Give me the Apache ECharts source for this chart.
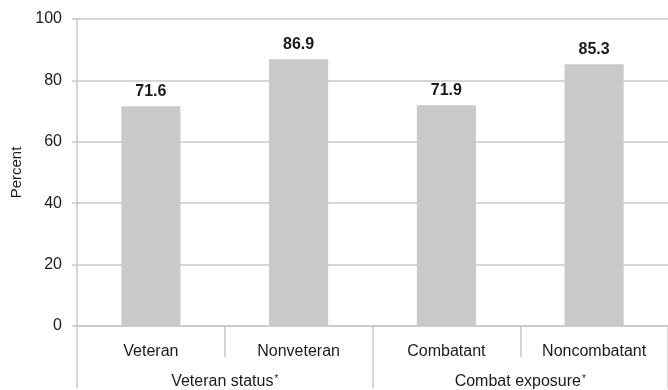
<!DOCTYPE html>
<html>
<head>
<meta charset="utf-8">
<script src="https://cdn.jsdelivr.net/npm/echarts@6/dist/echarts.min.js"></script>
<style>
  html, body { margin: 0; padding: 0; background: #fff; }
  #chart { width: 668px; height: 390px; }
</style>
</head>
<body>
<div id="chart"></div>
<script>
// Subgroup categories, their parent groups, and percentages
const categories = ['Veteran', 'Nonveteran', 'Combatant', 'Noncombatant'];
const groups = ['Veteran status', 'Combat exposure'];
const groupMarker = '*';
const percentValues = [71.6, 86.9, 71.9, 85.3];
const yTicks = [0, 20, 40, 60, 80, 100];

const lineColor = '#c8c8c8';
const textColor = '#1a1a1a';
const fontFamily = '"Liberation Sans", Arial, sans-serif';

const chart = echarts.init(document.getElementById('chart'), null, { renderer: 'canvas' });

chart.setOption({
  animation: false,
  backgroundColor: '#fff',
  textStyle: { fontFamily: fontFamily },
  grid: { left: 77, right: -1, top: 19, bottom: 60, containLabel: false },
  xAxis: [
    {
      type: 'category',
      data: categories,
      position: 'bottom',
      boundaryGap: true,
      axisLine: { show: true, lineStyle: { color: lineColor, width: 1.5 } },
      axisTick: { show: true, inside: false, length: 31, lineStyle: { color: lineColor, width: 1.5 } },
      axisLabel: { color: textColor, fontSize: 16, margin: 18, fontFamily: fontFamily }
    },
    {
      type: 'category',
      data: groups,
      position: 'bottom',
      boundaryGap: true,
      axisLine: { show: false },
      axisTick: { show: true, inside: false, length: 62, lineStyle: { color: lineColor, width: 1.5 } },
      axisLabel: {
        color: textColor,
        fontSize: 16,
        margin: 48,
        fontFamily: fontFamily,
        formatter: (v) => '{t|' + v + '}{s|' + groupMarker + '}',
        rich: {
          t: { fontSize: 16, color: textColor, fontFamily: fontFamily, verticalAlign: 'bottom' },
          s: { fontSize: 10, color: textColor, fontFamily: fontFamily, verticalAlign: 'top', padding: [0, 0, 6, 1] }
        }
      }
    }
  ],
  yAxis: {
    type: 'value',
    min: yTicks[0],
    max: yTicks[yTicks.length - 1],
    interval: yTicks[1] - yTicks[0],
    name: 'Percent',
    nameLocation: 'middle',
    nameGap: 47,
    nameRotate: 90,
    nameTextStyle: { color: textColor, fontSize: 15, fontFamily: fontFamily },
    axisLine: { show: true, lineStyle: { color: lineColor, width: 1.5 } },
    axisTick: { show: true, inside: false, length: 5, lineStyle: { color: lineColor, width: 1.5 } },
    axisLabel: { color: textColor, fontSize: 16, margin: 15, fontFamily: fontFamily },
    splitLine: { show: true, lineStyle: { color: lineColor, width: 1.5 } }
  },
  series: [
    {
      type: 'bar',
      xAxisIndex: 0,
      data: percentValues,
      barWidth: '40%',
      itemStyle: { color: '#c9c9c9' },
      label: {
        show: true,
        position: 'top',
        distance: 7,
        color: textColor,
        fontSize: 16,
        fontWeight: 'bold',
        fontFamily: fontFamily,
        formatter: (p) => p.value.toFixed(1)
      }
    }
  ]
});
</script>
</body>
</html>
